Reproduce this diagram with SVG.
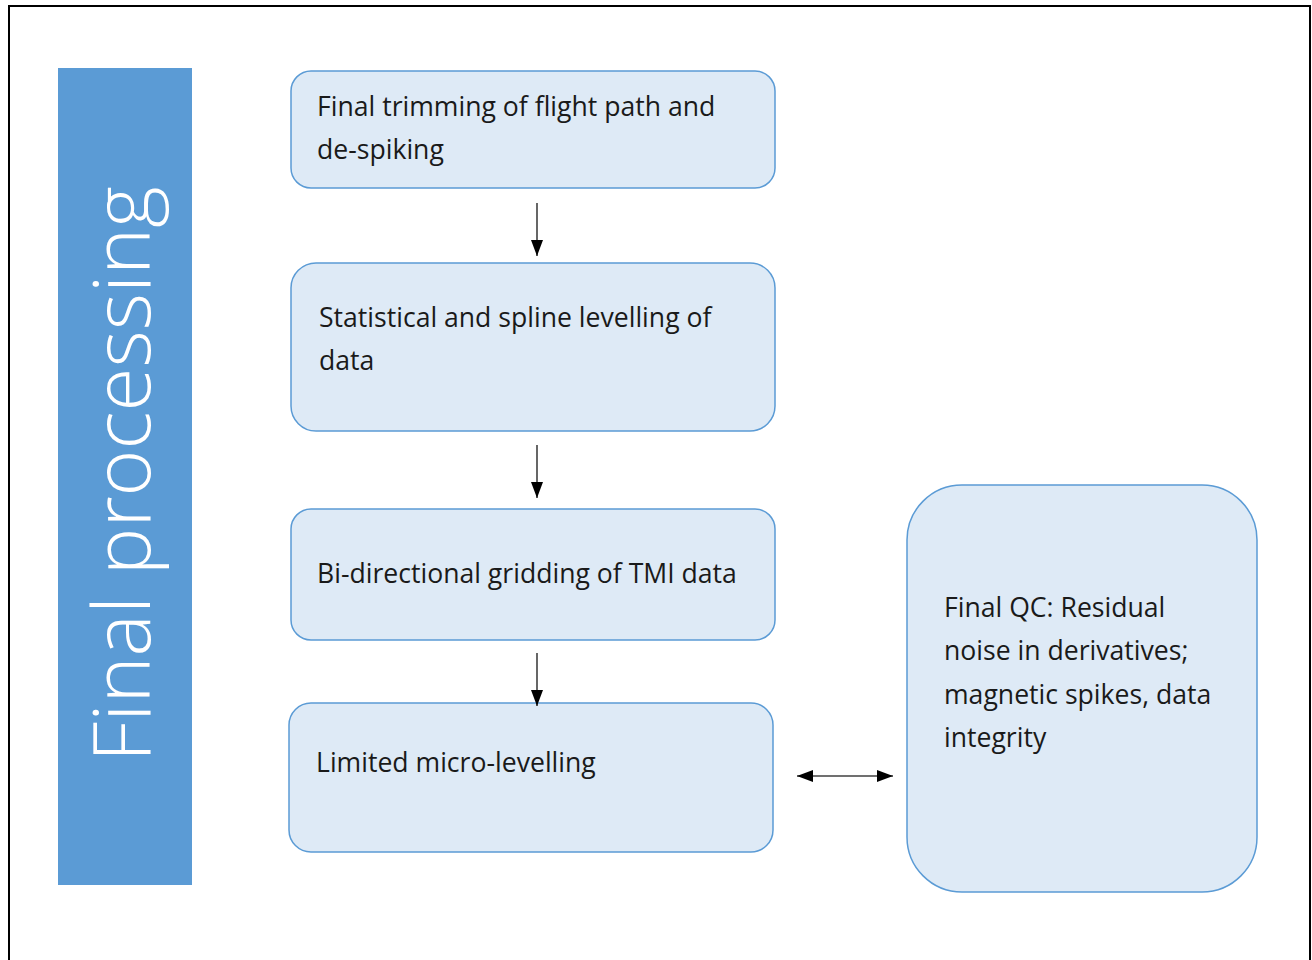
<svg xmlns="http://www.w3.org/2000/svg" width="1312" height="960" viewBox="0 0 1312 960">
<defs>
<style>
.box{fill:#DEEAF6;stroke:#5B9BD5;stroke-width:1.5}
.t{font-family:"Open Sans","Liberation Sans",sans-serif;font-size:26.6px;fill:#1a1a1a}
.c{stroke:#404040;stroke-width:1.6;fill:none}
</style>
<marker id="ah2" viewBox="0 0 16 12" refX="16" refY="6" markerWidth="16" markerHeight="12" markerUnits="userSpaceOnUse" orient="auto-start-reverse">
<path d="M0,0 L16,6 L0,12 z" fill="#000"/>
</marker>
</defs>
<rect x="0" y="0" width="1312" height="960" fill="#fff"/>
<path d="M9,970 V6 H1310 V970" fill="none" stroke="#000" stroke-width="2"/>
<g id="title">
<rect x="58" y="68" width="134" height="817" fill="#5B9BD5"/>
<text transform="translate(150,474) rotate(-90)" text-anchor="middle" font-family="'Open Sans','Liberation Sans',sans-serif" font-weight="300" font-size="80" fill="#fff">Final processing</text>
</g>
<g id="n1">
<rect class="box" x="291" y="71" width="484" height="117" rx="20"/>
<text class="t" x="317" y="116">Final trimming of flight path and</text>
<text class="t" x="317" y="159">de-spiking</text>
</g>
<g id="n2">
<rect class="box" x="291" y="263" width="484" height="168" rx="25"/>
<text class="t" x="319" y="327">Statistical and spline levelling of</text>
<text class="t" x="319" y="370">data</text>
</g>
<g id="n3">
<rect class="box" x="291" y="509" width="484" height="131" rx="20"/>
<text class="t" x="317" y="583">Bi-directional gridding of TMI data</text>
</g>
<g id="n4">
<rect class="box" x="289" y="703" width="484" height="149" rx="22"/>
<text class="t" x="316" y="772">Limited micro-levelling</text>
</g>
<g id="n5">
<rect class="box" x="907" y="485" width="350" height="407" rx="55"/>
<text class="t" x="944" y="617">Final QC: Residual</text>
<text class="t" x="944" y="660">noise in derivatives;</text>
<text class="t" x="944" y="704">magnetic spikes, data</text>
<text class="t" x="944" y="747">integrity</text>
</g>
<g id="connectors">
<line class="c" x1="537" y1="203" x2="537" y2="256" marker-end="url(#ah2)"/>
<line class="c" x1="537" y1="445" x2="537" y2="498" marker-end="url(#ah2)"/>
<line class="c" x1="537" y1="653" x2="537" y2="706" marker-end="url(#ah2)"/>
<line class="c" x1="797" y1="776" x2="893" y2="776" marker-start="url(#ah2)" marker-end="url(#ah2)"/>
</g>
</svg>
